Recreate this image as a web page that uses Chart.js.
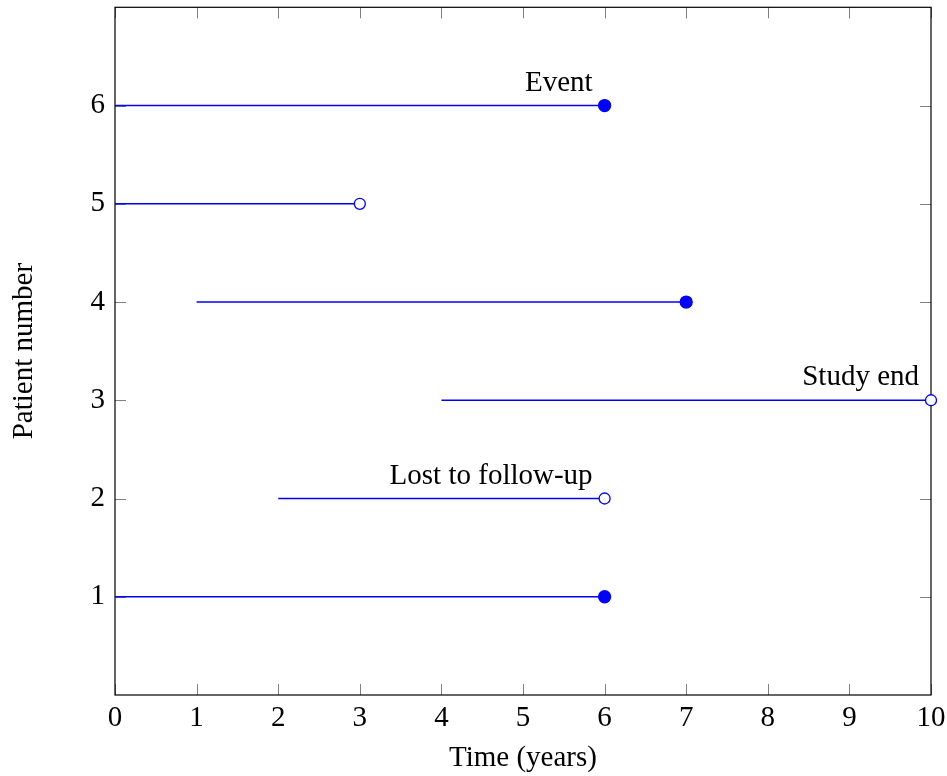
<!DOCTYPE html>
<html>
<head>
<meta charset="utf-8">
<script src="https://cdn.jsdelivr.net/npm/chart.js@4/dist/chart.umd.min.js"></script>
<style>
  html, body { margin: 0; padding: 0; background: #fff; }
  #wrap { width: 947px; height: 776px; }
</style>
</head>
<body>
<div id="wrap"><canvas id="c" width="947" height="776"></canvas></div>
<script>
// Follow-up of each patient: entry time, exit time and how follow-up ended
const patients   = [1, 2, 3, 4, 5, 6];
const startTimes = [0, 2, 4, 1, 0, 0];
const endTimes   = [6, 6, 10, 7, 3, 6];
const hadEvent   = [true, false, false, true, false, true];
const notes      = ['', 'Lost to follow-up', 'Study end', '', '', 'Event'];
const xTicks     = [0, 1, 2, 3, 4, 5, 6, 7, 8, 9, 10];
const yTicks     = [1, 2, 3, 4, 5, 6];

const BLUE = '#0000ff';
const FONT = '"Liberation Serif", "Times New Roman", serif';
const FS = 29;

const datasets = patients.map((p, i) => ({
  label: 'Patient ' + p,
  data: [{ x: startTimes[i], y: p }, { x: endTimes[i], y: p }],
  borderColor: BLUE,
  borderWidth: 1.4,
  pointRadius: ctx => ctx.dataIndex === 1 ? (hadEvent[i] ? 6 : 5.5) : 0,
  pointHoverRadius: ctx => ctx.dataIndex === 1 ? (hadEvent[i] ? 6 : 5.5) : 0,
  pointBackgroundColor: hadEvent[i] ? BLUE : '#ffffff',
  pointBorderColor: BLUE,
  pointBorderWidth: 1.3,
  clip: false,
  fill: false
}));

// Frame on all four sides with inward tick marks, plus the text notes
const framePlugin = {
  id: 'frame',
  beforeDatasetsDraw(chart) {
    const { ctx, chartArea: a, scales: { x, y } } = chart;
    ctx.save();
    ctx.strokeStyle = '#808080';
    ctx.lineWidth = 1;
    const tl = 11;
    ctx.beginPath();
    xTicks.forEach(v => {
      const px = Math.round(x.getPixelForValue(v)) + 0.5;
      ctx.moveTo(px, a.bottom); ctx.lineTo(px, a.bottom - tl);
      ctx.moveTo(px, a.top); ctx.lineTo(px, a.top + tl);
    });
    yTicks.forEach(v => {
      const py = Math.round(y.getPixelForValue(v)) + 0.5;
      ctx.moveTo(a.left, py); ctx.lineTo(a.left + tl, py);
      ctx.moveTo(a.right, py); ctx.lineTo(a.right - tl, py);
    });
    ctx.stroke();
    ctx.strokeStyle = '#000';
    ctx.lineWidth = 1.2;
    ctx.strokeRect(a.left, a.top, a.right - a.left, a.bottom - a.top);
    ctx.restore();
  },
  afterDatasetsDraw(chart) {
    const { ctx, scales: { x, y } } = chart;
    ctx.save();
    ctx.font = FS + 'px ' + FONT;
    ctx.fillStyle = '#000';
    ctx.textAlign = 'right';
    ctx.textBaseline = 'alphabetic';
    patients.forEach((p, i) => {
      if (!notes[i]) return;
      ctx.fillText(notes[i], x.getPixelForValue(endTimes[i]) - 12, y.getPixelForValue(p) - 15);
    });
    ctx.restore();
  }
};

new Chart(document.getElementById('c'), {
  type: 'line',
  data: { datasets },
  options: {
    responsive: false,
    animation: false,
    events: [],
    layout: { padding: { left: 0, right: 16, top: 7, bottom: 0 } },
    plugins: { legend: { display: false }, tooltip: { enabled: false } },
    scales: {
      x: {
        type: 'linear',
        min: 0, max: 10,
        afterBuildTicks: s => { s.ticks = xTicks.map(v => ({ value: v })); },
        afterFit: s => { s.height = 81; s.paddingLeft = 0; s.paddingRight = 0; },
        grid: { display: false, drawTicks: false, tickLength: 0 },
        border: { display: false },
        ticks: { color: '#000', padding: 6, font: { family: FONT, size: FS }, maxRotation: 0 },
        title: { display: true, text: 'Time (years)', color: '#000', font: { family: FONT, size: FS }, padding: { top: 0, bottom: 0 } }
      },
      y: {
        type: 'linear',
        min: 0, max: 7,
        afterBuildTicks: s => { s.ticks = yTicks.map(v => ({ value: v })); },
        afterFit: s => { s.width = 115; s.paddingTop = 0; s.paddingBottom = 0; },
        grid: { display: false, drawTicks: false, tickLength: 0 },
        border: { display: false },
        ticks: { color: '#000', padding: 10, font: { family: FONT, size: FS } },
        title: { display: true, text: 'Patient number', color: '#000', font: { family: FONT, size: FS }, padding: { top: 7, bottom: 0 } }
      }
    }
  },
  plugins: [framePlugin]
});
</script>
</body>
</html>
